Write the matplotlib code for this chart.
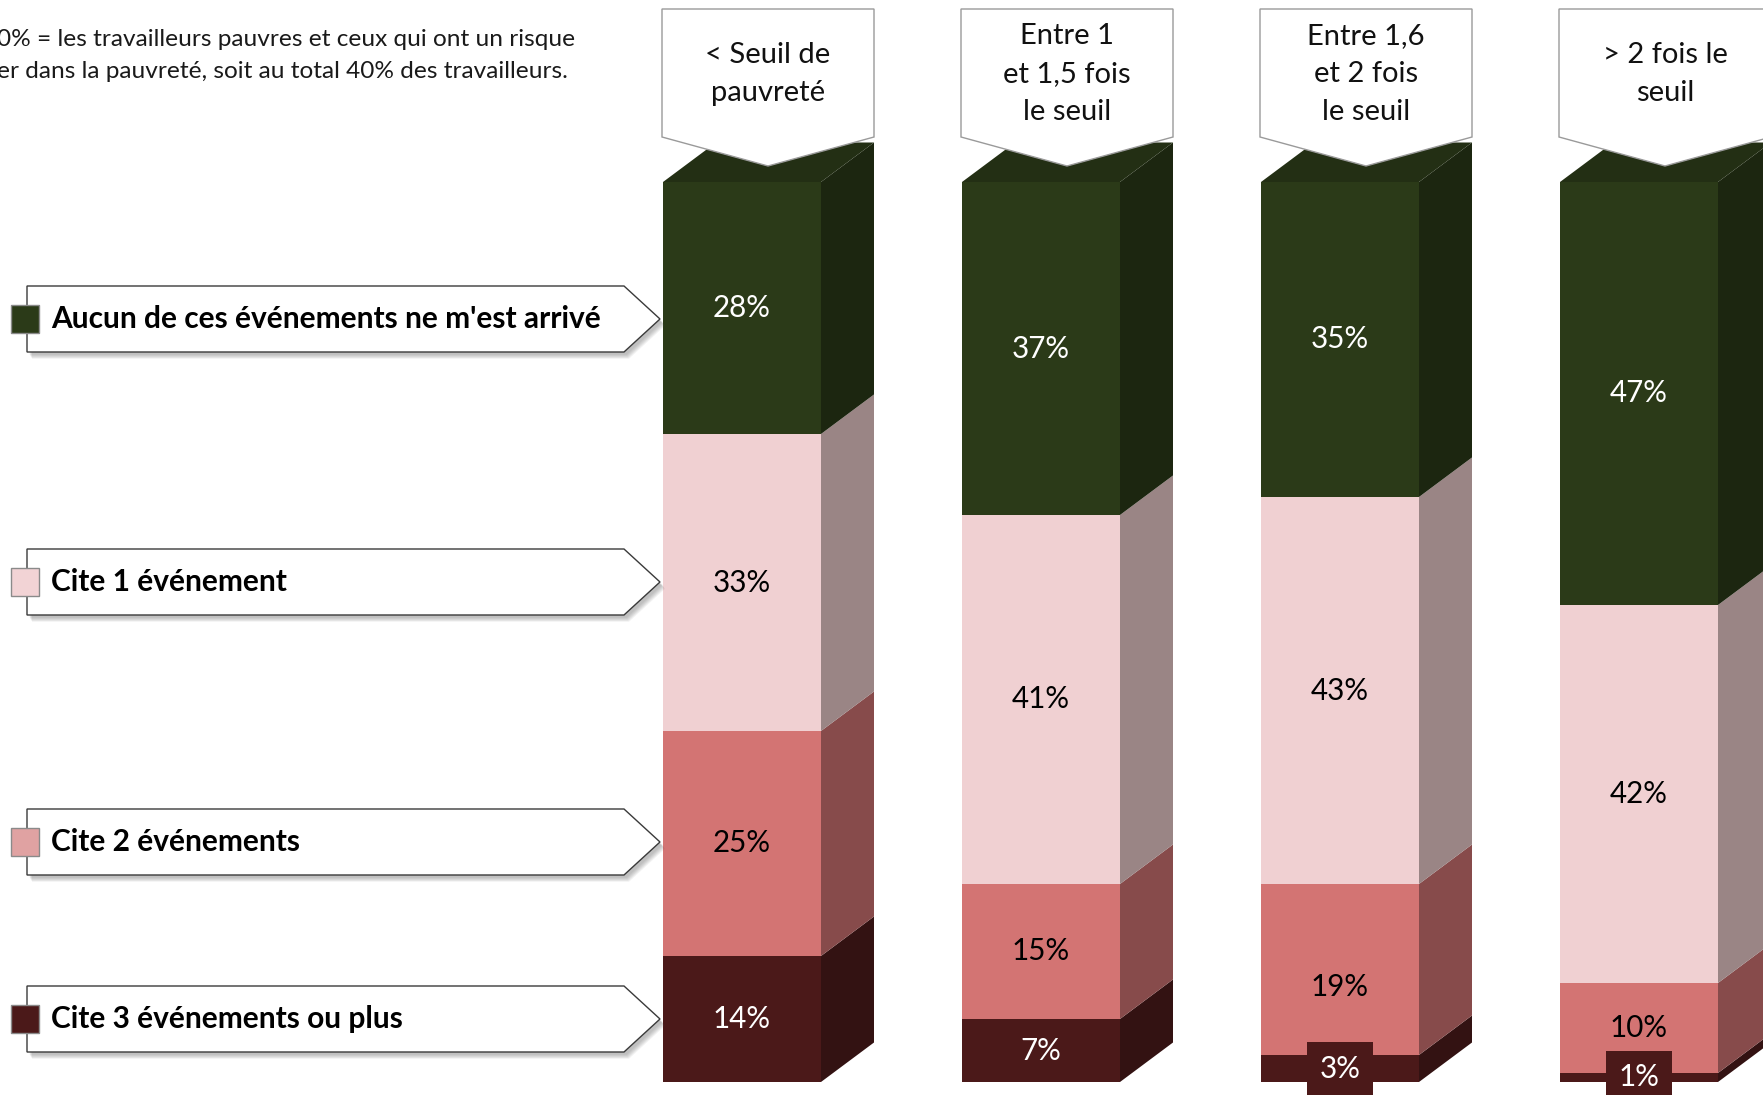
import matplotlib
matplotlib.use("Agg")
import matplotlib.pyplot as plt
from matplotlib.patches import Polygon, Rectangle

# ---- data -------------------------------------------------------------
categories = ["< Seuil de\npauvreté",
              "Entre 1\net 1,5 fois\nle seuil",
              "Entre 1,6\net 2 fois\nle seuil",
              "> 2 fois le\nseuil"]
series_names = ["Aucun de ces événements ne m'est arrivé",
                "Cite 1 événement",
                "Cite 2 événements",
                "Cite 3 événements ou plus"]
aucun = [28, 37, 35, 47]
cite1 = [33, 41, 43, 42]
cite2 = [25, 15, 19, 10]
cite3 = [14, 7, 3, 1]
note_lines = ["0% = les travailleurs pauvres et ceux qui ont un risque",
              "er dans la pauvreté, soit au total 40% des travailleurs."]

# ---- styling ----------------------------------------------------------
FONT = "Lato"
plt.rcParams["font.family"] = [FONT, "DejaVu Sans"]

front = ["#2B3A18", "#F0D0D2", "#D37473", "#4B1919"]
side = ["#1C2610", "#9A8585", "#874B4B", "#331212"]
top_col = "#232F14"
label_col = ["white", "black", "black", "white"]
legend_marker = ["#2B3A18", "#F2D3D5", "#E0A2A2", "#4B1919"]

W, H = 1763, 1095
fig = plt.figure(figsize=(W / 100, H / 100), dpi=100)

# bar axes: one unit per category on x, percent on y
x0, step = 742, 299          # pixel centre of first bar, spacing between bars
ppp = 9.0                    # pixels per percentage point
base = 13                    # baseline height above the bottom edge (px)
ax = fig.add_axes([0, 0, 1, 1])
ax.set_xlim(-x0 / step, (W - x0) / step)
ax.set_ylim(-base / ppp, (H - base) / ppp)
ax.axis("off")

bw = 158 / step              # front face width
ddx = 53 / step              # depth offset along x
ddy = 39.5 / ppp             # depth offset along y

# stacked from the bottom up
stack = [cite3, cite2, cite1, aucun]
stack_front = front[::-1]
stack_side = side[::-1]
stack_lab = label_col[::-1]
nudge = {(1, 2): -1.9}       # (series index from bottom, bar) -> shift in percent

xs = list(range(len(categories)))
for j in xs:
    bottom = 0
    for k, vals in enumerate(stack):
        v = vals[j]
        ax.bar(j, v, bottom=bottom, width=bw, color=stack_front[k],
               edgecolor="none", zorder=2)
        xr = j + bw / 2
        ax.add_patch(Polygon([(xr, bottom), (xr + ddx, bottom + ddy),
                              (xr + ddx, bottom + v + ddy), (xr, bottom + v)],
                             closed=True, facecolor=stack_side[k],
                             edgecolor="none", zorder=1))
        ymid = bottom + v / 2 + nudge.get((k, j), 0)
        kw = {}
        if v < 5:
            kw["bbox"] = dict(boxstyle="square,pad=0.42", facecolor=front[3],
                              edgecolor="none")
        ax.text(j, ymid, f"{v}%", ha="center", va="center",
                color=stack_lab[k], fontsize=21.3, zorder=4, **kw)
        bottom += v
    xl = j - bw / 2
    ax.add_patch(Polygon([(xl, bottom), (xl + bw, bottom),
                          (xl + bw + ddx, bottom + ddy), (xl + ddx, bottom + ddy)],
                         closed=True, facecolor=top_col, edgecolor="none",
                         zorder=1))

# ---- overlay in pixel coordinates -------------------------------------
ov = fig.add_axes([0, 0, 1, 1])
ov.set_xlim(0, W)
ov.set_ylim(H, 0)
ov.axis("off")
ov.patch.set_alpha(0)

# note in the top-left corner
for i, line in enumerate(note_lines):
    ov.text(-3, 40 + 31.5 * i, line, ha="left", va="center",
            fontsize=17.6, color="#1a1a1a")

# column headers (pentagon callouts)
hw = 106
for j, lab in enumerate(categories):
    cx = x0 + step * j + 26
    pts = [(cx - hw, 9), (cx + hw, 9), (cx + hw, 137), (cx, 166), (cx - hw, 137)]
    ov.add_patch(Polygon(pts, closed=True, facecolor="white",
                         edgecolor="#9a9a9a", lw=1.0, zorder=5))
    ov.text(cx, 74, lab, ha="center", va="center", fontsize=21,
            linespacing=1.55, color="#111111", zorder=6)

# legend callouts
leg_y = [319, 582, 842, 1019]
L, R, P, hh = 27, 624, 660, 33
for name, yc, mc in zip(series_names, leg_y, legend_marker):
    pts = [(L, yc - hh), (R, yc - hh), (P, yc), (R, yc + hh), (L, yc + hh)]
    for s in range(6, 0, -1):
        sh = [(x + 2 + s * 0.5, y + 2 + s * 0.8) for x, y in pts]
        ov.add_patch(Polygon(sh, closed=True, facecolor="#555555",
                             edgecolor="none", alpha=0.07, zorder=4))
    ov.add_patch(Polygon(pts, closed=True, facecolor="white",
                         edgecolor="#3a3a3a", lw=1.0, zorder=5))
    ov.add_patch(Rectangle((11, yc - 14), 28, 28, facecolor=mc,
                           edgecolor="#8a8a8a", lw=1.0, zorder=6))
    ov.text(51, yc, name, ha="left", va="center", fontsize=21.5,
            fontweight="bold", color="black", zorder=6)

fig.savefig("out.png", dpi=100)
